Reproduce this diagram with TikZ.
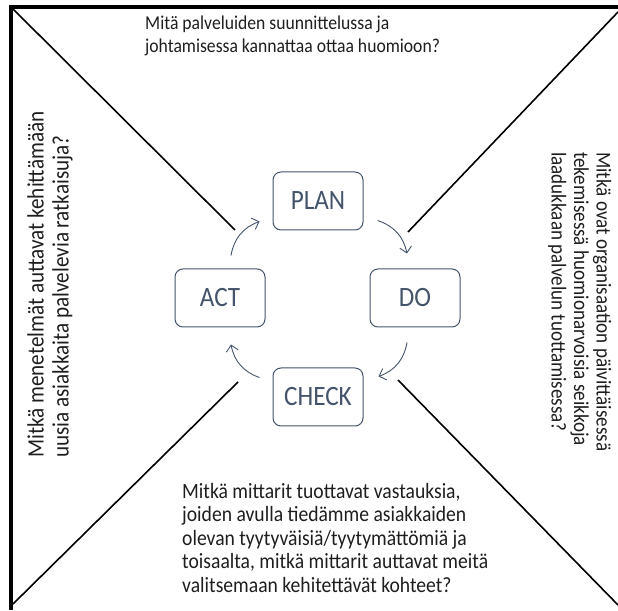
\documentclass[tikz,border=0pt]{standalone}
\usepackage{fontspec}
\setmainfont{Carlito}[FakeStretch=0.9]
\usetikzlibrary{arrows.meta,positioning}
\definecolor{harmaa}{RGB}{68,84,106}
\definecolor{teksti}{RGB}{30,30,30}

\begin{document}
\begin{tikzpicture}[x=1pt,y=1pt,
    vaihe/.style={draw=harmaa,fill=white,rounded corners=8pt,line width=1pt,
                  minimum width=90pt,minimum height=58pt,
                  font=\fontsize{28}{32}\selectfont,text=harmaa},
    kierto/.style={draw=harmaa,line width=0.9pt,
                   -{Straight Barb[length=6pt,width=12pt]},bend left=30},
    kysymys/.style={font=\fontsize{19.6}{22.5}\selectfont,text=teksti,
                    align=left,inner sep=0pt,anchor=north west},
    raja/.style={line width=1.6pt}]
  \useasboundingbox (0,0) rectangle (618,610);
  % Frame
  \draw[line width=3.5pt] (11,0) -- (11,603) -- (618,603);
  % Diagonals
  \draw[raja] (13,601) -- (235,380);
  \draw[raja] (618,598) -- (408,378);
  \draw[raja] (13,6) -- (238,228);
  \draw[raja] (398,230) -- (618,5);
  % PDCA boxes
  \node[vaihe] (plan)  at (318,409) {PLAN};
  \node[vaihe] (do)    at (415,312) {DO};
  \node[vaihe] (check) at (318,213) {CHECK};
  \node[vaihe] (act)   at (220,312) {ACT};
  % Arrows
  \draw[kierto] ([shift={(14,10)}]plan.south east) to ([shift={(-8,15)}]do.north);
  \draw[kierto] ([shift={(-8,-15)}]do.south) to ([shift={(15,-9)}]check.north east);
  \draw[kierto] ([shift={(-13,-10)}]check.north west) to ([shift={(11,-17)}]act.south);
  \draw[kierto] ([shift={(11,13)}]act.north) to ([shift={(-13,9)}]plan.south west);
  % Questions
  \node[kysymys] (ylakysymys) at (145,594)
    {Mitä palveluiden suunnittelussa ja\\johtamisessa kannattaa ottaa huomioon?};
  \node[kysymys,rotate=90,font=\fontsize{23.5}{25}\selectfont] (vasenkysymys) at (27,152)
    {Mitkä menetelmät auttavat kehittämään\\uusia asiakkaita palvelevia ratkaisuja?};
  \node[kysymys,rotate=-90,font=\fontsize{21.2}{22.5}\selectfont] (oikeakysymys) at (611.5,458)
    {Mitkä ovat organisaation päivittäisessä\\tekemisessä huomionarvoisia seikkoja\\laadukkaan palvelun tuottamisessa?};
  \node[kysymys,font=\fontsize{21.8}{23.5}\selectfont] (alakysymys) at (182,127)
    {Mitkä mittarit tuottavat vastauksia,\\joiden avulla tiedämme asiakkaiden\\olevan tyytyväisiä/tyytymättömiä ja\\toisaalta, mitkä mittarit auttavat meitä\\valitsemaan kehitettävät kohteet?};
\end{tikzpicture}
\end{document}
